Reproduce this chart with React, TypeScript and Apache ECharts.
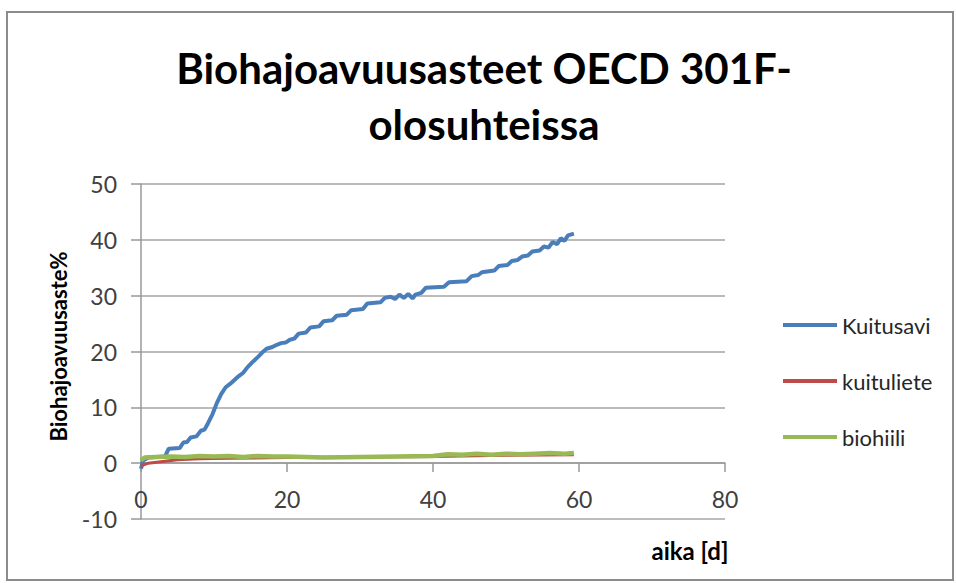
import React, { useEffect, useRef } from "react";
import * as echarts from "echarts";

const titleLines = ["Biohajoavuusasteet OECD 301F-", "olosuhteissa"];
const yAxisName = "Biohajoavuusaste%";
const xAxisName = "aika [d]";
const seriesNames = ["Kuitusavi", "kuituliete", "biohiili"];
const seriesColors = ["#4a7ebb", "#be4b48", "#98b954"];

const kuitusavi: [number, number][] = [
  [0, -1.0], [0.3, 0.5], [1, 1.0], [3.3, 1.2], [3.8, 2.6], [5.3, 2.7], [5.8, 3.7], [6.3, 3.8],
  [6.8, 4.6], [7.6, 4.8], [8.2, 5.8], [8.7, 6.0], [9.2, 7.2], [9.8, 8.8], [10.4, 10.8], [11, 12.4],
  [11.6, 13.6], [12.2, 14.2], [12.8, 14.9], [13.4, 15.6], [14, 16.2], [14.6, 17.2], [15.2, 18],
  [16, 19], [16.6, 19.8], [17.2, 20.5], [18, 20.8], [18.6, 21.2], [19.2, 21.5], [19.8, 21.6],
  [20.4, 22.1], [21, 22.3], [21.6, 23.2], [22.6, 23.4], [23.2, 24.3], [24.4, 24.5], [25, 25.4],
  [26.2, 25.6], [26.8, 26.4], [28.2, 26.6], [28.8, 27.4], [30.4, 27.6], [31, 28.6], [32.8, 28.8],
  [33.4, 29.6], [34.2, 29.8], [34.8, 29.4], [35.4, 30.2], [36, 29.6], [36.6, 30.3], [37.2, 29.5],
  [37.6, 30.2], [38.4, 30.5], [39, 31.4], [41.5, 31.6], [42.2, 32.4], [44.6, 32.6], [45.3, 33.5],
  [46.2, 33.7], [46.7, 34.2], [48.4, 34.5], [49, 35.3], [50.2, 35.5], [50.8, 36.2], [51.6, 36.4],
  [52.2, 37], [53, 37.2], [53.6, 37.9], [54.6, 38.1], [55.2, 38.8], [55.8, 38.6], [56.4, 39.6],
  [57, 39.2], [57.5, 40.3], [58, 39.8], [58.5, 40.8], [59.3, 41.1],
];

const kuituliete: [number, number][] = [
  [0, -0.5], [1, 0], [3, 0.3], [5, 0.6], [8, 0.8], [12, 0.9], [20, 1.0], [30, 1.1],
  [40, 1.2], [50, 1.4], [59.3, 1.5],
];

const biohiili: [number, number][] = [
  [0, 0.5], [0.5, 1.0], [2, 1.1], [4, 1.2], [6, 1.1], [8, 1.3], [10, 1.2], [12, 1.3], [14, 1.1],
  [16, 1.3], [18, 1.2], [20, 1.2], [25, 1.0], [30, 1.1], [35, 1.2], [40, 1.3], [42, 1.6],
  [44, 1.5], [46, 1.7], [48, 1.5], [50, 1.7], [52, 1.6], [54, 1.7], [56, 1.8], [58, 1.7], [59.3, 1.8],
];

const seriesData = [kuitusavi, kuituliete, biohiili];
const lineWidths = [4, 3, 4.5];

const FONT = "Lato, 'Open Sans', sans-serif";

export default function App() {
  const ref = useRef<HTMLDivElement>(null);

  useEffect(() => {
    document.body.style.margin = "0";
    if (!ref.current) return;
    const chart = echarts.init(ref.current, null, { renderer: "svg" });
    chart.setOption({
      animation: false,
      backgroundColor: "#ffffff",
      textStyle: { fontFamily: FONT },
      grid: { left: 141, right: 231, top: 184, bottom: 64, containLabel: false },
      xAxis: {
        type: "value",
        min: 0,
        max: 80,
        interval: 20,
        offset: -56,
        axisLine: { show: true, onZero: false, lineStyle: { color: "#999999", width: 1.5 } },
        axisTick: { show: true, inside: false, length: 9, lineStyle: { color: "#999999", width: 1.5 } },
        axisLabel: { color: "#404040", fontSize: 23, margin: 24, fontFamily: FONT },
        splitLine: { show: false },
      },
      yAxis: {
        type: "value",
        min: -10,
        max: 50,
        interval: 10,
        name: yAxisName,
        nameLocation: "middle",
        nameGap: 72,
        nameTextStyle: { color: "#000000", fontSize: 22, fontWeight: "bold", fontFamily: FONT, padding: [0, 0, 0, 10] },
        axisLine: { show: true, lineStyle: { color: "#999999", width: 1.5 } },
        axisTick: { show: true, length: 10, lineStyle: { color: "#999999", width: 1.5 } },
        axisLabel: { color: "#404040", fontSize: 23, margin: 24, fontFamily: FONT },
        splitLine: { show: true, lineStyle: { color: "#a6a6a6", width: 1.5 } },
      },
      legend: {
        orient: "vertical",
        left: 778,
        top: 306,
        icon: "rect",
        itemWidth: 54,
        itemHeight: 4,
        itemGap: 28,
        textStyle: { color: "#262626", fontSize: 22, lineHeight: 28, fontFamily: FONT },
        data: seriesNames,
      },
      series: seriesNames.map((name, i) => ({
        name,
        type: "line",
        data: seriesData[i],
        showSymbol: false,
        symbol: "none",
        color: seriesColors[i],
        lineStyle: { color: seriesColors[i], width: lineWidths[i] },
        z: 2 + i,
      })),
      graphic: [
        {
          type: "rect",
          shape: { x: 7, y: 12, width: 946, height: 568 },
          style: { fill: "none", stroke: "#8c8c8c", lineWidth: 2 },
          silent: true,
        },
        {
          type: "text",
          x: 484,
          y: 68,
          style: {
            text: titleLines[0],
            fill: "#000000",
            font: `bold 42px ${FONT}`,
            align: "center",
            verticalAlign: "middle",
          },
        },
        {
          type: "text",
          x: 484,
          y: 124,
          style: {
            text: titleLines[1],
            fill: "#000000",
            font: `bold 42px ${FONT}`,
            align: "center",
            verticalAlign: "middle",
          },
        },
        {
          type: "text",
          x: 690,
          y: 550,
          style: {
            text: xAxisName,
            fill: "#000000",
            font: `bold 24px ${FONT}`,
            align: "center",
            verticalAlign: "middle",
          },
        },
      ],
    });
    return () => chart.dispose();
  }, []);

  return <div ref={ref} style={{ width: 956, height: 583 }} />;
}
